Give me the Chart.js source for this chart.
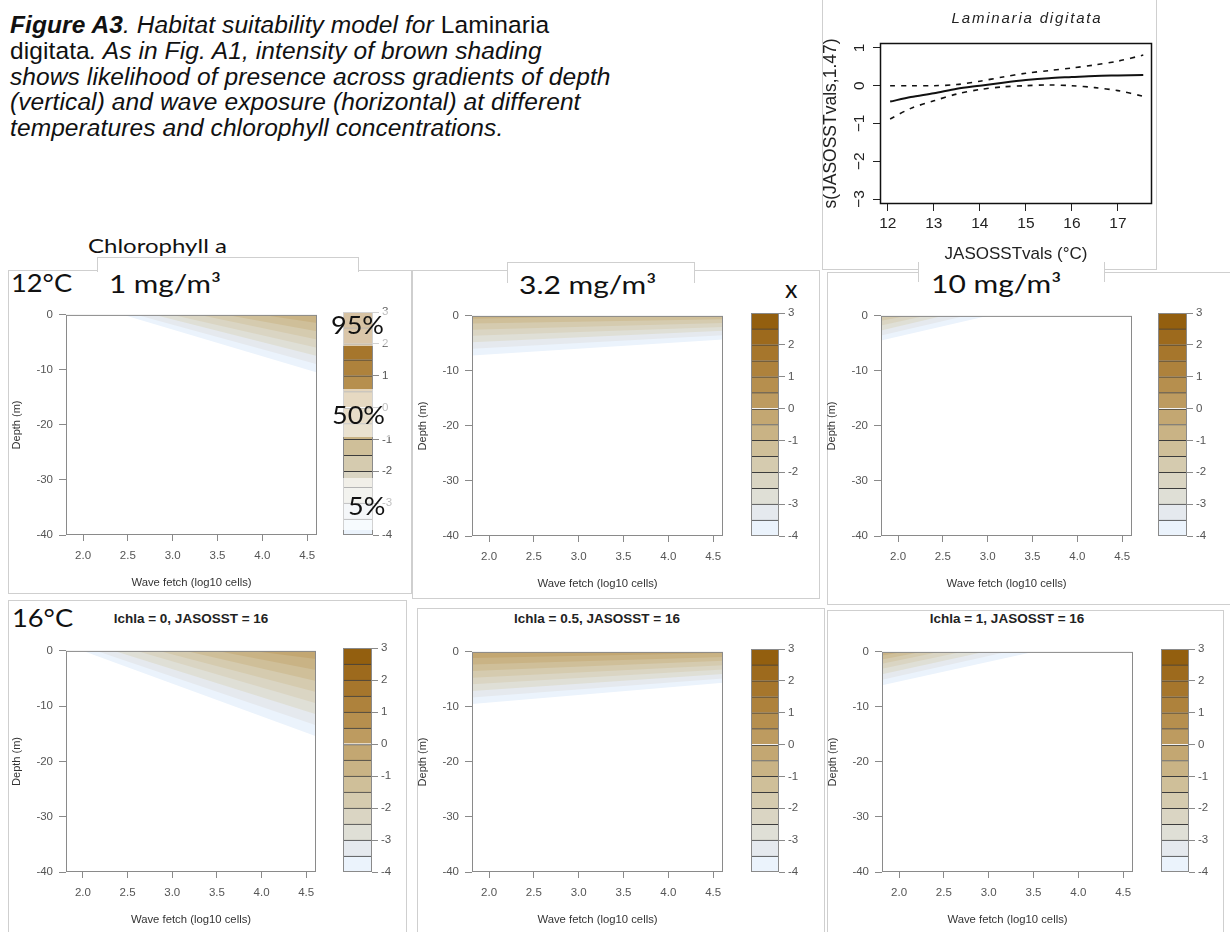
<!DOCTYPE html>
<html>
<head>
<meta charset="utf-8">
<script src="https://cdn.jsdelivr.net/npm/chart.js@4.4.1/dist/chart.umd.min.js"></script>
<style>
body { margin: 0; background: #fff; width: 1230px; height: 932px; position: relative; overflow: hidden; font-family: "Liberation Sans", Arial, sans-serif; }
canvas { position: absolute; z-index: 2; }
.fr { position: absolute; border: 1px solid #cfcfcf; background: #fff; z-index: 0; }
.cal { position: absolute; font-family: Lato, "Open Sans", sans-serif; color: #111; white-space: nowrap; line-height: 1; z-index: 3; transform-origin: 0 0; }
.ptitle { position: absolute; font: bold 13.5px "Liberation Sans", Arial, sans-serif; color: #222; transform: translateX(-50%); white-space: nowrap; z-index: 3; }
.veil { position: absolute; background: rgba(255,255,255,0.62); z-index: 3; }
#cap { position: absolute; left: 10px; top: 12px; font-size: 24.5px; line-height: 25.8px; letter-spacing: 0.1px; color: #111; z-index: 3; white-space: nowrap; }
#gamTitle { position: absolute; left: 1027px; top: 9px; transform: translateX(-50%); font: italic 15px "Liberation Sans", Arial, sans-serif; letter-spacing: 1.8px; color: #222; z-index: 3; white-space: nowrap; }
</style>
</head>
<body>

<div id="cap"><b><i>Figure A3</i></b><i>. Habitat suitability model for</i> Laminaria<br>digitata<i>. As in Fig. A1, intensity of brown shading</i><br><i>shows likelihood of presence across gradients of depth</i><br><i>(vertical) and wave exposure (horizontal) at different</i><br><i>temperatures and chlorophyll concentrations.</i></div>

<!-- panel frames (screenshot cut-outs) -->
<div class="fr" style="left:8px;top:270px;width:402px;height:322px"></div>
<div class="fr" style="left:412px;top:270px;width:406px;height:327px"></div>
<div class="fr" style="left:827px;top:272px;width:420px;height:331px"></div>
<div class="fr" style="left:8px;top:600px;width:397px;height:340px"></div>
<div class="fr" style="left:417px;top:608px;width:406px;height:340px"></div>
<div class="fr" style="left:827px;top:610px;width:395px;height:340px"></div>
<div class="fr" style="left:97px;top:257px;width:260px;height:14px;border-bottom:none"></div>
<div class="fr" style="left:507px;top:262px;width:186px;height:20px;border-bottom:none"></div>
<div class="fr" style="left:822px;top:-2px;width:333px;height:270px"></div>
<div class="fr" style="left:918px;top:262px;width:185px;height:20px;border-top:none;border-bottom:none"></div>

<div id="gamTitle">Laminaria digitata</div>

<div class="cal" style="left:88px;top:235px;font-size:20px;transform:scaleX(1.2)">Chlorophyll a</div>
<div class="cal" style="left:11px;top:270px;font-size:25px;transform:scaleX(1.09)">12°C</div>
<div class="cal" style="left:109px;top:271px;font-size:25px;transform:scaleX(1.19)">1 mg/m³</div>
<div class="cal" style="left:519px;top:272px;font-size:25px;transform:scaleX(1.2)">3.2 mg/m³</div>
<div class="cal" style="left:785px;top:276px;font-size:25px">x</div>
<div class="cal" style="left:931px;top:271px;font-size:25px;transform:scaleX(1.2)">10 mg/m³</div>
<div class="cal" style="left:12px;top:605px;font-size:25px;transform:scaleX(1.09)">16°C</div>

<div class="ptitle" style="left:191px;top:611px">lchla = 0, JASOSST = 16</div>
<div class="ptitle" style="left:597px;top:611px">lchla = 0.5, JASOSST = 16</div>
<div class="ptitle" style="left:1007px;top:611px">lchla = 1, JASOSST = 16</div>

<div class="veil" style="left:330px;top:310px;width:64px;height:36px"></div>
<div class="veil" style="left:330px;top:389px;width:64px;height:48px"></div>
<div class="veil" style="left:330px;top:478px;width:64px;height:52px"></div>
<div class="cal" style="left:331px;top:312px;font-size:25px;z-index:4;transform:scaleX(1.08)">95%</div>
<div class="cal" style="left:332px;top:402px;font-size:25px;z-index:4;transform:scaleX(1.08)">50%</div>
<div class="cal" style="left:348px;top:493px;font-size:25px;z-index:4;transform:scaleX(1.08)">5%</div>

<script>
// ---- data ----
const fetchTicks = [2.0, 2.5, 3.0, 3.5, 4.0, 4.5];
const depthTicks = [0, -10, -20, -30, -40];
const scaleTicks = [3, 2, 1, 0, -1, -2, -3, -4];
const levels = [-4, -3.5, -3, -2.5, -2, -1.5, -1, -0.5, 0, 0.5, 1, 1.5, 2, 2.5, 3];

// contour lines (fetch, depth) for each level, lowest level first
const sst12chl1 = [
  [[2.45, 0], [4.62, -10.5]],
  [[2.6, 0], [4.62, -9]],
  [[2.8, 0], [4.62, -7.5]],
  [[3.0, 0], [4.62, -6]],
  [[3.3, 0], [4.62, -4.5]],
  [[3.6, 0], [4.62, -3]],
  [[4.0, 0], [4.62, -1.5]]
];
const sst12chl32 = [
  [[1.8, -7.2], [4.62, -4.3]],
  [[1.8, -6.0], [4.62, -3.5]],
  [[1.8, -4.8], [4.62, -2.7]],
  [[1.8, -3.6], [4.62, -2.0]],
  [[1.8, -2.5], [4.62, -1.3]],
  [[1.8, -1.4], [4.62, -0.6]],
  [[1.8, -0.5], [3.5, 0]]
];
const sst12chl10 = [
  [[1.8, -4.5], [3.0, 0]],
  [[1.8, -3.6], [2.75, 0]],
  [[1.8, -2.7], [2.5, 0]],
  [[1.8, -1.8], [2.3, 0]],
  [[1.8, -0.9], [2.1, 0]]
];
const sst16chl1 = [
  [[2.0, 0], [4.62, -15.5]],
  [[2.15, 0], [4.62, -13.5]],
  [[2.35, 0], [4.62, -11.5]],
  [[2.6, 0], [4.62, -9.5]],
  [[2.85, 0], [4.62, -7.5]],
  [[3.15, 0], [4.62, -5.5]],
  [[3.5, 0], [4.62, -3.5]],
  [[3.9, 0], [4.62, -1.5]]
];
const sst16chl32 = [
  [[1.8, -9.5], [4.62, -5.6]],
  [[1.8, -8.3], [4.62, -4.8]],
  [[1.8, -7.1], [4.62, -4.0]],
  [[1.8, -5.9], [4.62, -3.2]],
  [[1.8, -4.7], [4.62, -2.4]],
  [[1.8, -3.5], [4.62, -1.6]],
  [[1.8, -2.3], [4.62, -0.9]],
  [[1.8, -1.1], [4.62, -0.2]]
];
const sst16chl10 = [
  [[1.8, -6.1], [3.5, 0]],
  [[1.8, -5.1], [3.2, 0]],
  [[1.8, -4.1], [2.95, 0]],
  [[1.8, -3.1], [2.7, 0]],
  [[1.8, -2.2], [2.45, 0]],
  [[1.8, -1.4], [2.25, 0]],
  [[1.8, -0.7], [2.05, 0]]
];

// GAM smooth for temperature
const sstVals = [12.05, 12.5, 13, 13.5, 14, 14.5, 15, 15.5, 16, 16.5, 17, 17.55];
const sstFit = [-0.42, -0.3, -0.2, -0.08, 0.0, 0.08, 0.15, 0.2, 0.23, 0.26, 0.27, 0.28];
const sstUpper = [0.0, 0.0, 0.0, 0.03, 0.12, 0.23, 0.33, 0.4, 0.47, 0.55, 0.65, 0.81];
const sstLower = [-0.88, -0.6, -0.4, -0.22, -0.1, -0.03, 0.0, 0.02, 0.0, -0.05, -0.13, -0.28];
const sstTicks = [12, 13, 14, 15, 16, 17];
const effTicks = [1, 0, -1, -2, -3];

// ---- styles ----
const palette = ['#ebf3fc', '#e5e9ee', '#dfdfd6', '#dad5c3', '#d5cbaf', '#cfbf99', '#c9b385', '#c3a772',
                 '#bd9b60', '#b68f4e', '#ae823c', '#a6762c', '#9d6a1d', '#935f0f'];

Chart.defaults.font.family = '"Liberation Sans", Arial, sans-serif';
Chart.defaults.animation = false;
Chart.defaults.plugins.legend.display = false;
Chart.defaults.plugins.tooltip.enabled = false;

function frame(color, lw) {
  return {
    id: 'frame',
    afterDatasetsDraw(chart) {
      const a = chart.chartArea, c = chart.ctx;
      c.save();
      c.strokeStyle = color;
      c.lineWidth = lw;
      c.strokeRect(a.left + 0.5, a.top + 0.5, a.right - a.left - 1, a.bottom - a.top - 1);
      c.restore();
    }
  };
}

function makeCanvas(left, top, w, h) {
  const cv = document.createElement('canvas');
  cv.width = w; cv.height = h;
  cv.style.left = left + 'px'; cv.style.top = top + 'px';
  cv.style.width = w + 'px'; cv.style.height = h + 'px';
  document.body.appendChild(cv);
  return cv;
}

function contourPanel(L, R, T, B, lines) {
  const cv = makeCanvas(L - 60, T - 10, (R - L) + 72, (B - T) + 68);
  const datasets = [];
  for (let k = lines.length - 1; k >= 0; k--) {
    datasets.push({
      data: lines[k].map(p => ({x: p[0], y: p[1]})),
      fill: 'end',
      backgroundColor: palette[k],
      borderColor: 'rgba(0,0,0,0)',
      borderWidth: 0,
      pointRadius: 0,
      tension: 0
    });
  }
  new Chart(cv, {
    type: 'line',
    data: {datasets},
    options: {
      responsive: false,
      devicePixelRatio: 1,
      layout: {padding: {top: 10, right: 12, left: 0, bottom: 0}},
      scales: {
        x: {
          type: 'linear', min: 1.81, max: 4.61,
          afterBuildTicks: s => { s.ticks = fetchTicks.map(v => ({value: v})); },
          afterFit: s => { s.height = 58; },
          grid: {drawOnChartArea: false, tickLength: 6, color: '#8a8a8a'},
          border: {display: false},
          ticks: {font: {size: 11.5}, color: '#555', padding: 8, maxRotation: 0, callback: v => v.toFixed(1)},
          title: {display: true, text: 'Wave fetch (log10 cells)', font: {size: 11.3}, color: '#333', padding: {top: 0, bottom: 3}}
        },
        y: {
          type: 'linear', min: -40, max: 0,
          afterBuildTicks: s => { s.ticks = depthTicks.map(v => ({value: v})); },
          afterFit: s => { s.width = 60; },
          grid: {drawOnChartArea: false, tickLength: 7, color: '#8a8a8a'},
          border: {display: false},
          ticks: {font: {size: 11.5}, color: '#555', padding: 6, callback: v => String(v)},
          title: {display: true, text: 'Depth (m)', font: {size: 11}, color: '#333', padding: {top: 4, bottom: 0}}
        }
      }
    },
    plugins: [frame('#8a8a8a', 1)]
  });
}

function colorbar(L, R, T, B) {
  const cv = makeCanvas(L, T - 10, (R - L) + 32, (B - T) + 20);
  const datasets = palette.map((c, k) => ({
    data: [[levels[k], levels[k + 1]]],
    backgroundColor: c,
    borderColor: '#3c3c3c',
    borderWidth: {top: 1, bottom: 0, left: 0, right: 0},
    borderSkipped: false,
    grouped: false,
    barPercentage: 1,
    categoryPercentage: 1
  }));
  new Chart(cv, {
    type: 'bar',
    data: {labels: [''], datasets},
    options: {
      responsive: false,
      devicePixelRatio: 1,
      layout: {padding: {top: 10, bottom: 10, left: 0, right: 0}},
      scales: {
        x: {display: false},
        y: {
          position: 'right', min: -4, max: 3,
          afterBuildTicks: s => { s.ticks = scaleTicks.map(v => ({value: v})); },
          afterFit: s => { s.width = 32; },
          grid: {drawOnChartArea: false, tickLength: 6, color: '#8a8a8a'},
          border: {display: false},
          ticks: {font: {size: 11.5}, color: '#555', padding: 3, callback: v => String(v)}
        }
      }
    },
    plugins: [frame('#8a8a8a', 1)]
  });
}

// top row: 12 degC, bottom row: 16 degC
contourPanel(66, 317, 312, 535, sst12chl1);
contourPanel(472, 723, 313, 536, sst12chl32);
contourPanel(881, 1132, 313, 536, sst12chl10);
contourPanel(66, 316, 648, 872, sst16chl1);
contourPanel(472, 723, 649, 872, sst16chl32);
contourPanel(882, 1133, 649, 872, sst16chl10);

colorbar(343, 373, 312, 535);
colorbar(751, 779, 313, 536);
colorbar(1158, 1187, 313, 536);
colorbar(343, 372, 648, 872);
colorbar(751, 779, 649, 872);
colorbar(1161, 1189, 649, 872);

// GAM partial effect of temperature
(function () {
  const cv = makeCanvas(800, 0, 360, 268);
  const pts = arr => sstVals.map((x, i) => ({x: x, y: arr[i]}));
  new Chart(cv, {
    type: 'line',
    data: {
      datasets: [
        {data: pts(sstFit), borderColor: '#111', borderWidth: 2, pointRadius: 0, fill: false, tension: 0.3},
        {data: pts(sstUpper), borderColor: '#111', borderWidth: 1.6, borderDash: [5, 6], pointRadius: 0, fill: false, tension: 0.3},
        {data: pts(sstLower), borderColor: '#111', borderWidth: 1.6, borderDash: [5, 6], pointRadius: 0, fill: false, tension: 0.3}
      ]
    },
    options: {
      responsive: false,
      devicePixelRatio: 1,
      layout: {padding: {top: 43, right: 8, left: 0, bottom: 0}},
      scales: {
        x: {
          type: 'linear', min: 11.83, max: 17.74,
          afterBuildTicks: s => { s.ticks = sstTicks.map(v => ({value: v})); },
          afterFit: s => { s.height = 64; },
          grid: {drawOnChartArea: false, tickLength: 7, color: '#222'},
          border: {display: false},
          ticks: {font: {size: 15.5}, color: '#222', padding: 3, maxRotation: 0, callback: v => String(v)},
          title: {display: true, text: 'JASOSSTvals (°C)', font: {size: 17}, color: '#222', padding: {top: 0, bottom: 3}}
        },
        y: {
          type: 'linear', min: -3.13, max: 1.13,
          afterBuildTicks: s => { s.ticks = effTicks.map(v => ({value: v})); },
          afterFit: s => { s.width = 80; },
          grid: {drawOnChartArea: false, tickLength: 7, color: '#222'},
          border: {display: false},
          ticks: {font: {size: 15.5}, color: '#222', padding: 4, minRotation: 90, maxRotation: 90, crossAlign: 'center',
                  callback: v => (v < 0 ? '\u2212' + (-v) : String(v))},
          title: {display: true, text: 's(JASOSSTvals,1.47)', font: {size: 17.5}, color: '#222', padding: {top: 21, bottom: 0}}
        }
      }
    },
    plugins: [frame('#111', 1.5)]
  });
})();
</script>
</body>
</html>
